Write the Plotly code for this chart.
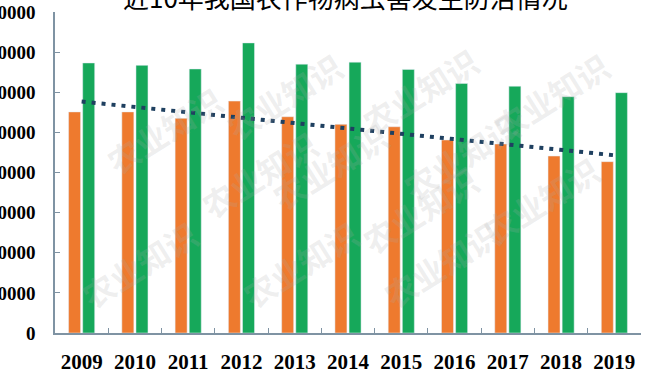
import numpy as np
import plotly.graph_objects as go

years = ["2009", "2010", "2011", "2012", "2013", "2014", "2015", "2016", "2017", "2018", "2019"]
occurrence = [55100, 55100, 53500, 57800, 53900, 52000, 51400, 48100, 47100, 44100, 42700]
prevention = [67300, 66700, 65800, 72300, 67000, 67500, 65700, 62200, 61500, 58900, 59900]
y_ticks = [0, 10000, 20000, 30000, 40000, 50000, 60000, 70000, 80000]
title_text = "近10年我国农作物病虫害发生防治情况"
watermark = "农业知识"

# linear trend of occurrence (derived from data)
xi = np.arange(len(years))
slope, intercept = np.polyfit(xi, occurrence, 1)
trend = (slope * xi + intercept).tolist()

W, H = 648, 375
ml, mr, mt, mb = 55, 7, 12, 42

fig = go.Figure()
fig.add_trace(go.Bar(x=years, y=occurrence, name="发生面积", marker_color="#EE7A2E"))
fig.add_trace(go.Bar(x=years, y=prevention, name="防治面积", marker_color="#16A85A"))
fig.add_trace(go.Scatter(x=years, y=trend, mode="lines", name="趋势",
                         line=dict(color="#1F4060", width=4, dash="4px,6px")))

serif = "Liberation Serif"
fig.update_layout(
    width=W, height=H,
    margin=dict(l=ml, r=mr, t=mt, b=mb, autoexpand=False),
    paper_bgcolor="white", plot_bgcolor="white",
    showlegend=False,
    barmode="group", bargap=0.47, bargroupgap=0.15,
    xaxis=dict(
        type="category", showline=True, linecolor="#7F93A3", linewidth=1.5,
        ticks="inside", tickson="boundaries", ticklen=5, tickcolor="#7F93A3",
        tickfont=dict(family=serif, size=21, color="black", weight="bold"),
        ticklabelstandoff=9, showgrid=False, automargin=False,
    ),
    yaxis=dict(
        range=[0, 80000], tickvals=y_ticks, tickformat="d",
        showline=True, linecolor="#7F93A3", linewidth=1.5,
        ticks="inside", ticklen=5, tickcolor="#7F93A3",
        tickfont=dict(family=serif, size=19, color="black", weight="bold"),
        ticklabelstandoff=14, showgrid=False, zeroline=False, automargin=False,
    ),
)

pw, ph = W - ml - mr, H - mt - mb
def px2paper(x, y):
    return (x - ml) / pw, (H - mb - y) / ph

annotations = []
tx, ty = px2paper(345, -4)
annotations.append(dict(text=title_text, x=tx, y=ty, xref="paper", yref="paper",
                        xanchor="center", yanchor="middle", showarrow=False,
                        font=dict(family="Noto Sans CJK SC", size=26, color="black")))

wm_pos = [(215, 40), (420, 35), (620, 40), (95, 130), (330, 110), (530, 100),
          (190, 230), (420, 210), (610, 200), (70, 320), (300, 320), (510, 320)]
for (x, y) in wm_pos:
    ax, ay = px2paper(x, y)
    annotations.append(dict(text=watermark, x=ax, y=ay, xref="paper", yref="paper",
                            showarrow=False, textangle=-32,
                            font=dict(family="Noto Sans CJK SC", size=32, weight="bold",
                                      color="rgba(170,170,170,0.2)")))
fig.update_layout(annotations=annotations)

fig.write_html("out.html", config={"displayModeBar": False},
               post_script="document.body.style.margin='0px';document.body.style.padding='0px';document.body.style.overflow='hidden';")
